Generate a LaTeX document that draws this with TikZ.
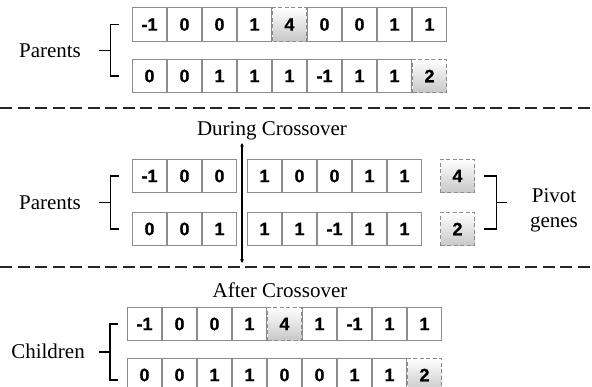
\documentclass[tikz,border=0pt]{standalone}
\usepackage{fontspec}
\setmainfont{Liberation Serif}
\newfontfamily\cellfont[UprightFont={* Bold},FakeBold=0.6]{Liberation Sans}
\newcommand\gv[1]{{\fontsize{18}{18}\selectfont\cellfont #1}}
\usetikzlibrary{arrows.meta,calc}

\begin{document}
\begin{tikzpicture}[x=1pt,y=-1pt,
  gene/.style={draw=black!45,line width=1.3pt,fill=white,minimum size=33.5pt,
    inner sep=0pt},
  pivot/.style={gene,dash pattern=on 4pt off 2.5pt,top color=white,bottom color=black!22},
  caption/.style={font=\fontsize{21}{24}\selectfont,inner sep=0pt},
  brk/.style={line width=1.1pt,black},
  sep/.style={line width=1.3pt,black!85,dash pattern=on 12pt off 5.5pt}]
\useasboundingbox (0,0) rectangle (592,387);

% --- parents before crossover ---
\foreach \g/\s [count=\i] in {-1/gene,0/gene,0/gene,1/gene,4/pivot,0/gene,0/gene,1/gene,1/gene}
  \node[\s] (pa\i) at ({149.5+35*(\i-1)},24.5) {\gv{\g}};
\foreach \g/\s [count=\i] in {0/gene,0/gene,1/gene,1/gene,1/gene,-1/gene,1/gene,1/gene,2/pivot}
  \node[\s] (pb\i) at ({149.5+35*(\i-1)},76) {\gv{\g}};
\node[caption] (lab1) at (50,51) {Parents};
\coordinate (m1) at ($(pa1.west)!0.5!(pb1.west)+(-22,0)$);
\draw[brk] ($(pa1.west)+(-13,0)$) -- ($(pa1.west)+(-22,0)$) -- ($(pb1.west)+(-22,0)$) -- ($(pb1.west)+(-13,0)$);
\draw[brk] (m1) -- ++(-11,0);

\draw[sep] (0,108) -- (592,108);

% --- during crossover ---
\node[caption] (lab2) at (272,131) {During Crossover};
\foreach \g [count=\i] in {-1,0,0}
  \node[gene] (ca\i) at ({149.5+35*(\i-1)},176) {\gv{\g}};
\foreach \g [count=\i] in {1,0,0,1,1}
  \node[gene] (da\i) at ({264.5+35*(\i-1)},176) {\gv{\g}};
\foreach \g [count=\i] in {0,0,1}
  \node[gene] (cb\i) at ({149.5+35*(\i-1)},229) {\gv{\g}};
\foreach \g [count=\i] in {1,1,-1,1,1}
  \node[gene] (db\i) at ({264.5+35*(\i-1)},229) {\gv{\g}};
\node[pivot] (qa) at (457.5,176) {\gv{4}};
\node[pivot] (qb) at (457.5,229) {\gv{2}};
\node[caption] (lab3) at (50,203) {Parents};
\coordinate (m2) at ($(ca1.west)!0.5!(cb1.west)+(-22,0)$);
\draw[brk] ($(ca1.west)+(-13,0)$) -- ($(ca1.west)+(-22,0)$) -- ($(cb1.west)+(-22,0)$) -- ($(cb1.west)+(-13,0)$);
\draw[brk] (m2) -- ++(-11,0);
% crossover cut
\coordinate (cutT) at (242,143);
\coordinate (cutB) at (242,263);
\draw[line width=1.2pt,{Triangle[length=3.5pt,width=3.5pt]}-{Triangle[length=3.5pt,width=3.5pt]}] (cutT) -- (cutB);
% pivot genes bracket
\coordinate (m3) at ($(qa.east)!0.5!(qb.east)+(22,0)$);
\draw[brk] ($(qa.east)+(9,0)$) -- ($(qa.east)+(22,0)$) -- ($(qb.east)+(22,0)$) -- ($(qb.east)+(9,0)$);
\draw[brk] (m3) -- ++(10,0);
\node[caption,align=center,font=\fontsize{21}{25}\selectfont] (lab4) at (554,210) {Pivot\\genes};

\draw[sep] (0,267) -- (592,267);

% --- children after crossover ---
\node[caption] (lab5) at (280,290) {After Crossover};
\foreach \g/\s [count=\i] in {-1/gene,0/gene,0/gene,1/gene,4/pivot,1/gene,-1/gene,1/gene,1/gene}
  \node[\s] (ka\i) at ({144.5+35*(\i-1)},324) {\gv{\g}};
\foreach \g/\s [count=\i] in {0/gene,0/gene,1/gene,1/gene,0/gene,0/gene,1/gene,1/gene,2/pivot}
  \node[\s] (kb\i) at ({144.5+35*(\i-1)},375) {\gv{\g}};
\node[caption] (lab6) at (48,351) {Children};
\coordinate (m4) at (110,352);
\draw[brk] (118,324) -- (110,324) -- (110,380) -- (118,380);
\draw[brk] (m4) -- ++(-11,0);
\end{tikzpicture}
\end{document}
